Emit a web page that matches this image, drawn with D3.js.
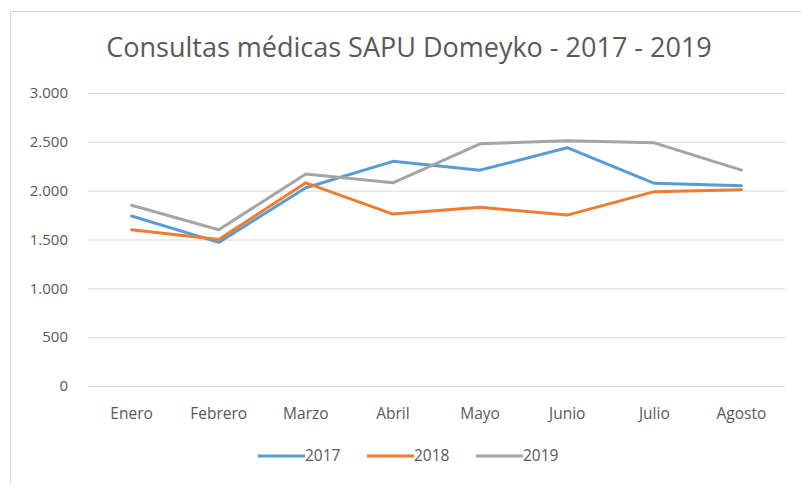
<!DOCTYPE html>
<html lang="es">
<head>
<meta charset="UTF-8">
<title>Consultas médicas SAPU Domeyko</title>
<script src="https://d3js.org/d3.v7.min.js"></script>
<style>
  body { margin: 0; background: #fff; }
  svg { display: block; font-family: "Open Sans", "Liberation Sans", sans-serif; }
</style>
</head>
<body>
<svg id="chart" width="801" height="484"></svg>
<script>
// data
const meses = ["Enero", "Febrero", "Marzo", "Abril", "Mayo", "Junio", "Julio", "Agosto"];
const anios = ["2017", "2018", "2019"];
const v2017 = [1740, 1470, 2030, 2300, 2210, 2440, 2075, 2050];
const v2018 = [1600, 1500, 2080, 1760, 1830, 1750, 1990, 2010];
const v2019 = [1850, 1600, 2170, 2080, 2480, 2510, 2490, 2210];
const yTicks = [0, 500, 1000, 1500, 2000, 2500, 3000];
const colores = ["#5b9bd5", "#ed7d31", "#a5a5a5"];

const series = [v2017, v2018, v2019].map((v, i) => ({ name: anios[i], values: v, color: colores[i] }));

const svg = d3.select("#chart");

// outer frame of the chart area
svg.append("rect")
  .attr("x", 10.5).attr("y", 11.5)
  .attr("width", 800).attr("height", 480)
  .attr("fill", "none")
  .attr("stroke", "#d9d9d9");

const mLeft = 88, mRight = 785, mTop = 93, mBottom = 386;

const x = d3.scaleBand().domain(meses).range([mLeft, mRight]);
const y = d3.scaleLinear().domain([0, 3000]).range([mBottom, mTop]);

const fmt = d => d3.format(",")(d).replace(/,/g, ".");

// title
svg.append("text")
  .attr("x", 409).attr("y", 57)
  .attr("text-anchor", "middle")
  .attr("fill", "#595959")
  .style("font-size", "27px")
  .text("Consultas médicas SAPU Domeyko - 2017 - 2019");

// gridlines + y labels
const yAxis = d3.axisLeft(y).tickValues(yTicks).tickSize(-(mRight - mLeft)).tickFormat(fmt).tickPadding(20);
svg.append("g")
  .attr("transform", `translate(${mLeft},0)`)
  .call(yAxis)
  .call(g => g.select(".domain").remove())
  .call(g => g.selectAll(".tick line").attr("stroke", "#d9d9d9"))
  .call(g => g.selectAll(".tick text")
    .attr("fill", "#595959")
    .style("font-size", "15px")
    .style("font-family", "'Open Sans', sans-serif"));

// x labels
const xAxis = d3.axisBottom(x).tickSize(0).tickPadding(22);
svg.append("g")
  .attr("transform", `translate(0,${mBottom})`)
  .call(xAxis)
  .call(g => g.select(".domain").remove())
  .call(g => g.selectAll(".tick text")
    .attr("fill", "#595959")
    .style("font-size", "15.5px")
    .style("font-family", "'Open Sans', sans-serif"));

// lines
const line = d3.line()
  .x((d, i) => x(meses[i]) + x.bandwidth() / 2)
  .y(d => y(d));

svg.append("g")
  .selectAll("path")
  .data(series)
  .join("path")
  .attr("d", d => line(d.values))
  .attr("fill", "none")
  .attr("stroke", d => d.color)
  .attr("stroke-width", 3)
  .attr("stroke-linejoin", "round")
  .attr("stroke-linecap", "round");

// legend
const legend = svg.append("g").attr("transform", "translate(258,456)");
const item = legend.selectAll("g")
  .data(series)
  .join("g")
  .attr("transform", (d, i) => `translate(${i * 109},0)`);
item.append("line")
  .attr("x1", 0).attr("x2", 47)
  .attr("stroke", d => d.color)
  .attr("stroke-width", 3);
item.append("text")
  .attr("x", 47).attr("dy", "0.35em")
  .attr("fill", "#595959")
  .style("font-size", "15.5px")
  .text(d => d.name);
</script>
</body>
</html>
